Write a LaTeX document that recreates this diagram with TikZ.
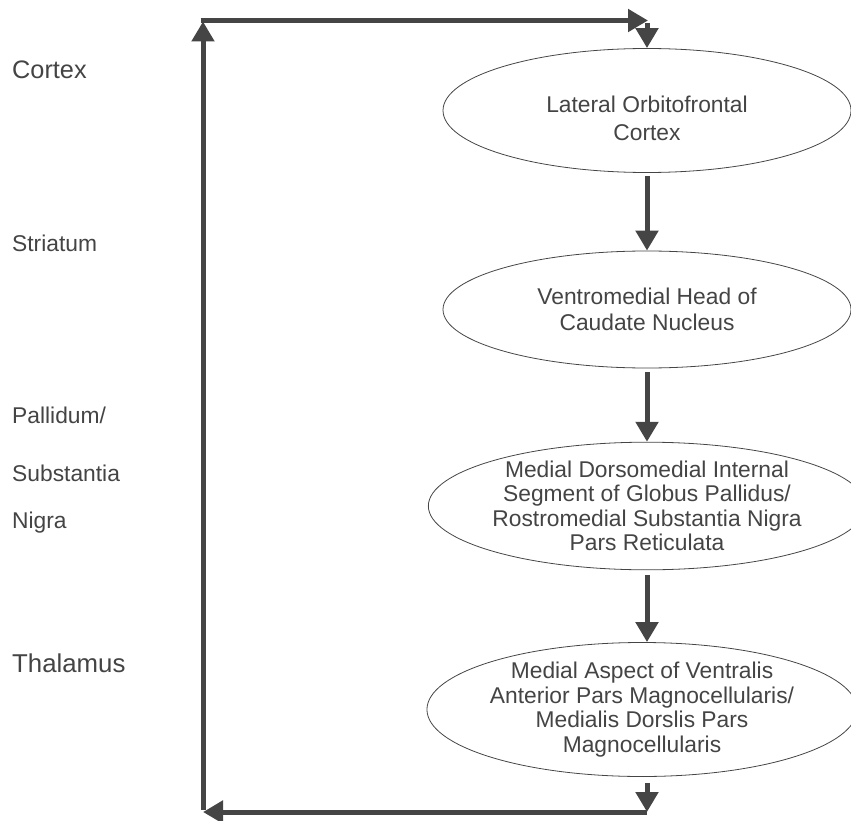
\documentclass[tikz,border=0pt]{standalone}
\usepackage{fontspec}
\setmainfont{Liberation Sans}
\usetikzlibrary{shapes.geometric,arrows.meta}
\definecolor{linegray}{HTML}{454545}
\definecolor{textgray}{HTML}{444444}
\begin{document}
\begin{tikzpicture}[x=1pt,y=-1pt,
    region/.style={anchor=west,text=textgray,font=\fontsize{22.8}{24}\selectfont,inner sep=0pt},
    nucleus/.style={ellipse,draw=linegray,line width=0.8pt,inner sep=0pt,minimum width=408pt,minimum height=124pt,
      align=center,text=textgray,font=\fontsize{22.8}{24.5}\selectfont},
    flow/.style={draw=linegray,line width=5pt,-{Triangle[length=20pt,width=22pt]}}]

    \useasboundingbox (0,0) rectangle (851,821);

    % level labels
    \node[region,font=\fontsize{25.3}{26}\selectfont] (cx) at (12,70) {Cortex};
    \node[region] (st) at (12,243) {Striatum};
    \node[region] (pa) at (12,415) {Pallidum/};
    \node[region] (sn) at (12,473) {Substantia};
    \node[region] (ni) at (12,523) {Nigra};
    \node[region,font=\fontsize{25.8}{26}\selectfont] (th) at (12,663) {Thalamus};

    % loop nuclei
    \node[nucleus] (ofc) at (647,110.5) {\rule{0pt}{33pt}Lateral Orbitofrontal\\[3.5pt]Cortex};
    \node[nucleus,minimum height=117pt] (cau) at (647,309.5) {Ventromedial Head of\\[2pt]Caudate Nucleus};
    \node[nucleus] (gpi) at (647,506) {Medial Dorsomedial Internal\\Segment of Globus Pallidus/\\Rostromedial Substantia Nigra\\Pars Reticulata};
    \node[nucleus,minimum width=416pt,minimum height=125pt] (thal) at (642,709.5) {Medial Aspect of Ventralis\\Anterior Pars Magnocellularis/\\Medialis Dorslis Pars\\Magnocellularis};

    \coordinate (tl) at (203,20.5);
    \coordinate (tr) at (647,20.5);
    \coordinate (bl) at (203,812);
    \coordinate (br) at (647,812);

    \draw[flow,shorten <=3pt] (ofc) -- (cau);
    \draw[flow,shorten <=4pt] (cau) -- (gpi);
    \draw[flow,shorten <=5pt] (gpi) -- (gpi |- thal.north);
    \draw[flow,shorten <=6pt] (thal.south -| br) -- (br);
    \draw[flow] (br) -- (bl);
    \draw[flow] ([yshift=2.5pt]bl) -- ([yshift=-1pt]tl);
    \draw[flow] ([xshift=-2.5pt]tl) -- ([xshift=1pt]tr);
    \draw[flow] ([yshift=-2.5pt]tr) -- (ofc.north);
\end{tikzpicture}
\end{document}
